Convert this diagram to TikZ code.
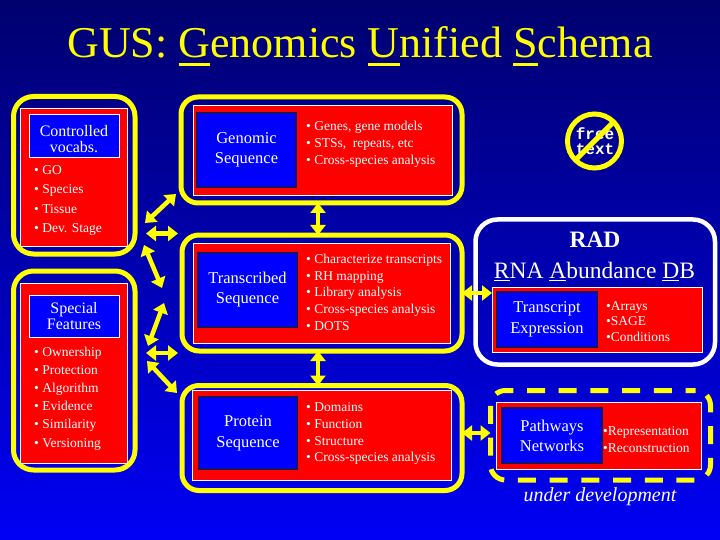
\documentclass[tikz,border=0pt]{standalone}
\usepackage{fontspec}
\setmainfont{Liberation Serif}
\newfontfamily\freemono{Liberation Mono}
\usetikzlibrary{arrows.meta}
\definecolor{yel}{RGB}{255,255,0}
\definecolor{bgtop}{RGB}{0,0,110}
\definecolor{bgbot}{RGB}{0,0,245}
\definecolor{rd}{RGB}{255,0,0}
\definecolor{bl}{RGB}{0,0,255}
\definecolor{nav}{RGB}{20,20,110}
\newlength\ulw
\newcommand\uln[3]{\settowidth\ulw{#3}\rlap{\rule[-#1]{\ulw}{#2}}#3}
\begin{document}
\begin{tikzpicture}[x=1pt,y=-1pt,
  yframe/.style={draw=yel, line width=5pt, rounded corners=17pt, inner sep=0pt, outer sep=0pt},
  redbox/.style={fill=rd, draw=white, line width=0.8pt, inner sep=0pt, outer sep=0pt},
  bluebox/.style={fill=bl, draw=nav, line width=1.8pt, text=white, align=center, inner sep=0pt, outer sep=0pt, font=\fontsize{16.5}{20}\selectfont},
  lbluebox/.style={fill=bl, draw=white, line width=0.8pt, inner sep=0pt, outer sep=0pt},
  bullets/.style={text=white, align=left, anchor=north west, inner sep=0pt, font=\fontsize{13.5}{17}\selectfont},
  dbl/.style={draw=yel, line width=4.5pt, {Triangle[length=10pt,width=15pt]}-{Triangle[length=10pt,width=15pt]}},
]
\useasboundingbox (0,0) rectangle (720,540);
\shade[top color=bgtop, bottom color=bgbot] (0,0) rectangle (720,540);

% title
\node[text=yel, font=\fontsize{44}{50}\selectfont, anchor=base, inner sep=0pt] (title) at (360,58)
  {GUS: \uln{8pt}{2.5pt}{G}enomics \uln{8pt}{2.5pt}{U}nified \uln{8pt}{2.5pt}{S}chema};

% left top
\node[yframe, rounded corners=20pt, minimum width=121.5pt, minimum height=157.5pt] (ltY) at (74.25,175.25) {};
\node[redbox, minimum width=107pt, minimum height=138pt] (ltR) at (73.5,177) {};
\node[lbluebox, minimum width=90pt, minimum height=43pt] (ltT) at (74,135.5) {};
\node[text=white, align=center, inner sep=0pt, font=\fontsize{16}{16}\selectfont] (ltTx) at (74,139) {Controlled\\vocabs.};
\node[bullets, font=\fontsize{13.5}{19.5}\selectfont] (ltB) at (34,165) {• GO\\• Species\\• Tissue\\• Dev. Stage};

% left bottom
\node[yframe, rounded corners=20pt, minimum width=121.5pt, minimum height=199pt] (lbY) at (74.25,370.5) {};
\node[redbox, minimum width=107pt, minimum height=180pt] (lbR) at (73.5,373) {};
\node[lbluebox, minimum width=90pt, minimum height=42pt, text=white, align=center, font=\fontsize{16}{16}\selectfont] (lbT) at (74,316) {Special\\Features};
\node[bullets, font=\fontsize{13.5}{18.2}\selectfont] (lbB) at (34,346.5) {• Ownership\\• Protection\\• Algorithm\\• Evidence\\• Similarity\\• Versioning};

% genomic
\node[yframe, minimum width=281pt, minimum height=106pt] (gY) at (321.5,150) {};
\node[redbox, minimum width=259pt, minimum height=90pt] (gR) at (322.5,150) {};
\node[bluebox, minimum width=99pt, minimum height=74pt] (gB) at (246.5,150) {Genomic\\Sequence};
\node[bullets] (gL) at (306,121) {• Genes, gene models\\• STSs,~ repeats, etc\\• Cross-species analysis};

% transcribed
\node[yframe, minimum width=280pt, minimum height=116pt] (tY) at (322,293) {};
\node[redbox, minimum width=257pt, minimum height=100pt] (tR) at (321.5,293) {};
\node[bluebox, minimum width=99pt, minimum height=74pt] (tB) at (247.5,290) {Transcribed\\Sequence};
\node[bullets, font=\fontsize{13.5}{16.7}\selectfont] (tL) at (306,254) {• Characterize transcripts\\• RH mapping\\• Library analysis\\• Cross-species analysis\\• DOTS};

% protein
\node[yframe, minimum width=280pt, minimum height=105pt] (pY) at (322,438) {};
\node[redbox, minimum width=259pt, minimum height=90pt] (pR) at (321.5,435.5) {};
\node[bluebox, minimum width=98pt, minimum height=72pt, font=\fontsize{16.5}{21}\selectfont] (pB) at (248,433) {Protein\\Sequence};
\node[bullets, font=\fontsize{13.5}{16.7}\selectfont] (pL) at (306,402.5) {• Domains\\• Function\\• Structure\\• Cross-species analysis};

% free text sign
\node[circle, draw=yel, line width=5pt, minimum size=54pt, inner sep=0pt, outer sep=0pt] (ft) at (594.5,141) {};
\node[text=white, align=center, inner sep=0pt, font=\freemono\bfseries\fontsize{16}{15}\selectfont] (ftx) at (595,141) {free\\text};
\draw[yel, line width=5pt] (ft.45) -- (ft.225);

% RAD
\node[draw=white, line width=4.5pt, rounded corners=22pt, minimum width=239.5pt, minimum height=145pt, inner sep=0pt, outer sep=0pt] (radF) at (595.25,292) {};
\node[text=white, anchor=base, inner sep=0pt, font=\fontsize{23.5}{26}\selectfont\bfseries] (radT) at (595,247.5) {RAD};
\node[text=white, anchor=base, inner sep=0pt, font=\fontsize{23.5}{26}\selectfont] (radN) at (594.5,278.3)
  {\uln{3pt}{1.4pt}{R}NA \uln{3pt}{1.4pt}{A}bundance \uln{3pt}{1.4pt}{D}B};
\node[redbox, minimum width=210pt, minimum height=65pt] (radR) at (597,319.5) {};
\node[bluebox, minimum width=100pt, minimum height=55pt, font=\fontsize{16.5}{21}\selectfont] (radB) at (547,319.5) {Transcript\\Expression};
\node[bullets, font=\fontsize{13.5}{15.5}\selectfont] (radL) at (606,301) {•Arrays\\•SAGE\\•Conditions};

% pathways
\node[draw=yel, line width=5pt, dash pattern=on 18pt off 13.7pt, dash phase=8pt, rounded corners=15pt, minimum width=220pt, minimum height=89.5pt, inner sep=0pt, outer sep=0pt] (pwF) at (600.5,435.25) {};
\node[redbox, minimum width=205pt, minimum height=67pt] (pwR) at (598.5,435.5) {};
\node[bluebox, minimum width=100pt, minimum height=55pt] (pwB) at (552,435.5) {Pathways\\Networks};
\node[bullets] (pwL) at (603,426) {•Representation\\•Reconstruction};
\node[text=white, anchor=base, inner sep=0pt, font=\fontsize{20}{24}\selectfont\itshape] (udev) at (600,501) {under development};

% arrow end points
\coordinate (a1s) at (145,223);   \coordinate (a1e) at (176,194);
\coordinate (a2s) at (146,233.5); \coordinate (a2e) at (178,233.5);
\coordinate (a3s) at (144,245);   \coordinate (a3e) at (162,288);
\coordinate (a4s) at (164,303);   \coordinate (a4e) at (148,346);
\coordinate (a5s) at (146,353);   \coordinate (a5e) at (178,353);
\coordinate (a6s) at (147,361);   \coordinate (a6e) at (177,393);
\coordinate (vx) at (318,0);
\coordinate (r2) at (462,433);

\draw[dbl] (a1s) -- (a1e);
\draw[dbl] (a2s) -- (a2e);
\draw[dbl] (a3s) -- (a3e);
\draw[dbl] (a4s) -- (a4e);
\draw[dbl] (a5s) -- (a5e);
\draw[dbl] (a6s) -- (a6e);
\draw[dbl] (gY.south -| vx) -- (tY.north -| vx);
\draw[dbl] (tY.south -| vx) -- (pY.north -| vx);
\draw[dbl] (tY.east) -- (tY.east -| radR.west);
\draw[dbl] (r2) -- (r2 -| pwF.west);
\end{tikzpicture}
\end{document}
